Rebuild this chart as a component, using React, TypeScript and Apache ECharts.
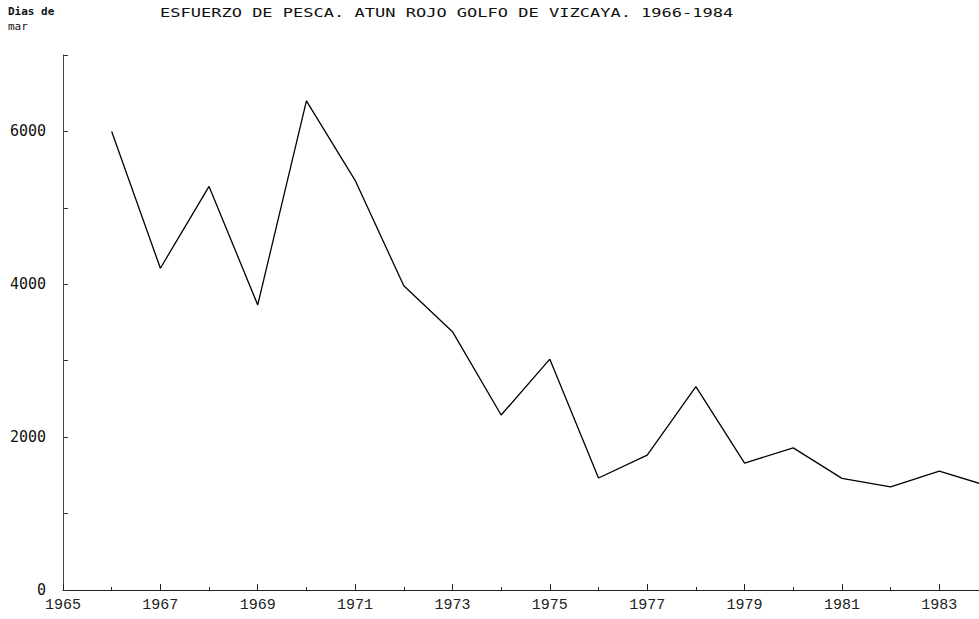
import React, { useEffect, useRef } from "react";
import * as echarts from "echarts";

const axisYears = [
  "1965", "1966", "1967", "1968", "1969", "1970", "1971", "1972", "1973", "1974",
  "1975", "1976", "1977", "1978", "1979", "1980", "1981", "1982", "1983", "1984",
];
const dataYears = [
  "1966", "1967", "1968", "1969", "1970", "1971", "1972", "1973", "1974", "1975",
  "1976", "1977", "1978", "1979", "1980", "1981", "1982", "1983", "1984",
];
const diasDeMar = [
  6000, 4210, 5280, 3730, 6400, 5360, 3980, 3380, 2290, 3020,
  1465, 1765, 2660, 1660, 1860, 1460, 1350, 1555, 1360,
];
const titleText = "ESFUERZO DE PESCA. ATUN ROJO GOLFO DE VIZCAYA. 1966-1984";
const yNameLines = ["Dias de", "mar"];

export default function App() {
  const ref = useRef<HTMLDivElement>(null);
  useEffect(() => {
    if (!ref.current) return;
    const chart = echarts.init(ref.current, null, { renderer: "svg" });
    const mono = "DejaVu Sans Mono";
    chart.setOption({
      animation: false,
      backgroundColor: "#ffffff",
      grid: {
        left: 63,
        top: 55,
        height: 535,
        width: 925,
        containLabel: false,
        outerBoundsMode: "none",
      },
      graphic: [
        {
          type: "text",
          x: 160,
          y: 13,
          scaleX: 1.31,
          style: {
            text: titleText,
            font: `13px "${mono}"`,
            fill: "#111",
            textVerticalAlign: "middle",
          },
        },
        {
          type: "text",
          x: 8,
          y: 11,
          style: {
            text: yNameLines[0],
            font: `bold 11px "${mono}"`,
            fill: "#111",
            textVerticalAlign: "middle",
          },
        },
        {
          type: "text",
          x: 8,
          y: 26,
          style: {
            text: yNameLines[1],
            font: `11px "${mono}"`,
            fill: "#111",
            textVerticalAlign: "middle",
          },
        },
      ],
      xAxis: [
        {
          type: "category",
          data: axisYears,
          boundaryGap: false,
          position: "bottom",
          axisLine: { show: true, lineStyle: { color: "#222", width: 1.2 } },
          axisTick: { show: true, inside: true, length: 6, interval: 1, lineStyle: { color: "#222" } },
          axisLabel: {
            show: true,
            interval: 1,
            margin: 8,
            color: "#222",
            fontFamily: "Liberation Mono",
            fontSize: 15,
            hideOverlap: false,
          },
          splitLine: { show: false },
        },
        {
          type: "category",
          data: axisYears,
          boundaryGap: false,
          position: "bottom",
          axisLine: { show: false },
          axisTick: { show: true, inside: true, length: 3, interval: 0, lineStyle: { color: "#222" } },
          axisLabel: { show: false },
          splitLine: { show: false },
        },
      ],
      yAxis: {
        type: "value",
        min: 0,
        max: 7000,
        interval: 1000,
        axisLine: { show: true, lineStyle: { color: "#444", width: 1 } },
        axisTick: { show: true, inside: true, length: 5, lineStyle: { color: "#333" } },
        axisLabel: {
          show: true,
          margin: 17,
          color: "#111",
          fontFamily: mono,
          fontSize: 15,
          formatter: (v: number) => (v % 2000 === 0 ? String(v) : ""),
        },
        splitLine: { show: false },
      },
      series: [
        {
          type: "line",
          xAxisIndex: 0,
          data: dataYears.map((y, i) => [y, diasDeMar[i]]),
          symbol: "none",
          lineStyle: { color: "#000", width: 1.3 },
        },
      ],
    });
    return () => chart.dispose();
  }, []);
  return (
    <div
      ref={ref}
      style={{ position: "fixed", left: 0, top: 0, width: 979, height: 619, background: "#fff" }}
    />
  );
}
